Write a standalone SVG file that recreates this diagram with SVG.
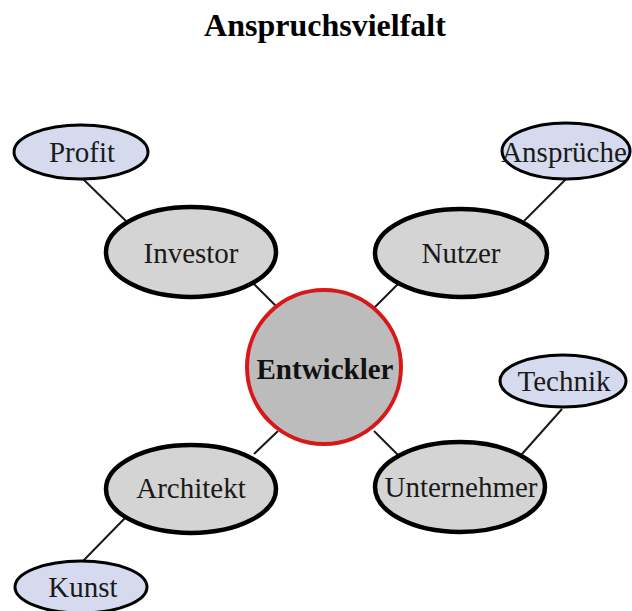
<svg xmlns="http://www.w3.org/2000/svg" width="632" height="611" viewBox="0 0 632 611">
<style>
text{font-family:"Liberation Serif","Times New Roman",serif;font-size:29px;fill:#1a1a1a;text-anchor:middle}
.title{font-size:32px;font-weight:bold;fill:#000}
.center{font-weight:bold;fill:#111}
.main{fill:#d4d4d4;stroke:#000;stroke-width:4.5}
.sub{fill:#d5daee;stroke:#000;stroke-width:3}
.hub{fill:#bcbcbc;stroke:#d81818;stroke-width:4}
#connectors line{stroke:#1a1a1a;stroke-width:2}
</style>
<rect width="632" height="611" fill="#fff"/>
<text class="title" x="325" y="36">Anspruchsvielfalt</text>
<g id="connectors">
<line x1="83" y1="179" x2="126" y2="221"/>
<line x1="566" y1="179" x2="524" y2="221"/>
<line x1="254" y1="284" x2="278" y2="308"/>
<line x1="374" y1="308" x2="398" y2="284"/>
<line x1="254" y1="454" x2="278" y2="431"/>
<line x1="374" y1="431" x2="398" y2="455"/>
<line x1="126" y1="517" x2="83" y2="561"/>
<line x1="562" y1="409" x2="522" y2="454"/>
</g>
<g id="profit"><ellipse class="sub" cx="81" cy="152" rx="67" ry="27"/><text x="82" y="162">Profit</text></g>
<g id="anspruche"><ellipse class="sub" cx="566" cy="151" rx="64" ry="28"/><text x="564" y="162">Ansprüche</text></g>
<g id="technik"><ellipse class="sub" cx="563" cy="381" rx="63" ry="26"/><text x="564" y="391">Technik</text></g>
<g id="kunst"><ellipse class="sub" cx="81" cy="587" rx="66" ry="26"/><text x="83" y="597">Kunst</text></g>
<g id="investor"><ellipse class="main" cx="191" cy="252" rx="85" ry="45"/><text x="191" y="263">Investor</text></g>
<g id="nutzer"><ellipse class="main" cx="461" cy="253" rx="86" ry="44"/><text x="461" y="263">Nutzer</text></g>
<g id="architekt"><ellipse class="main" cx="191" cy="489" rx="85" ry="44"/><text x="191" y="498">Architekt</text></g>
<g id="unternehmer"><ellipse class="main" cx="460" cy="487" rx="85" ry="45"/><text x="461" y="497">Unternehmer</text></g>
<g id="entwickler"><circle class="hub" cx="324" cy="367" r="77"/><text class="center" x="325" y="379">Entwickler</text></g>
</svg>
